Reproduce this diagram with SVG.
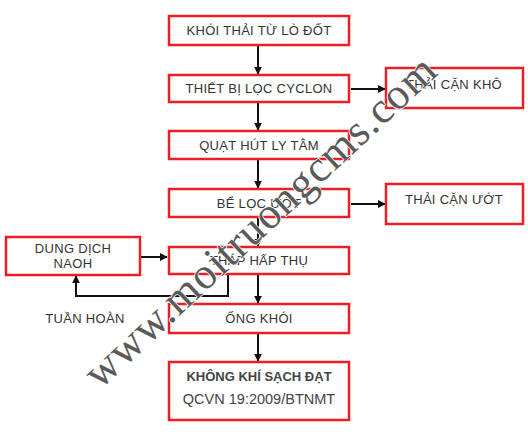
<svg xmlns="http://www.w3.org/2000/svg" width="528" height="435" viewBox="0 0 528 435">
<style>
.box{fill:#fff;stroke:#ee1c25;stroke-width:2.5}
.t{font-family:"Liberation Sans",Arial,sans-serif;font-size:13px;letter-spacing:0.3px;fill:#333;text-anchor:middle}
.ln{fill:none;stroke:#111;stroke-width:2}
.wm{font-family:"Liberation Serif","Times New Roman",serif;font-size:44px;letter-spacing:1px;fill:#5a5a5a;stroke:#fff;stroke-width:1.5;paint-order:stroke}
</style>
<defs>
<marker id="ah" viewBox="0 0 10 10" refX="9" refY="5" markerWidth="4" markerHeight="4" orient="auto" markerUnits="strokeWidth">
<path d="M0,0 L10,5 L0,10 z" fill="#111"/>
</marker>
</defs>
<rect width="528" height="435" fill="#fff"/>
<g id="connectors">
<line class="ln" x1="258" y1="46" x2="258" y2="74" marker-end="url(#ah)"/>
<line class="ln" x1="258" y1="103" x2="258" y2="130" marker-end="url(#ah)"/>
<line class="ln" x1="258" y1="160" x2="258" y2="188" marker-end="url(#ah)"/>
<line class="ln" x1="258" y1="218" x2="258" y2="246" marker-end="url(#ah)"/>
<line class="ln" x1="258" y1="275" x2="258" y2="303" marker-end="url(#ah)"/>
<line class="ln" x1="258" y1="334" x2="258" y2="361" marker-end="url(#ah)"/>
<line class="ln" x1="351" y1="89" x2="385" y2="89" marker-end="url(#ah)"/>
<line class="ln" x1="351" y1="204" x2="385" y2="204" marker-end="url(#ah)"/>
<line class="ln" x1="141" y1="257" x2="167" y2="257" marker-end="url(#ah)"/>
<polyline class="ln" points="228,275 228,296 76,296 76,276" marker-end="url(#ah)"/>
</g>
<g id="n1"><rect class="box" x="169" y="16" width="180" height="29"/><text class="t" x="259" y="35">KHÓI THẢI TỪ LÒ ĐỐT</text></g>
<g id="n2"><rect class="box" x="169" y="75" width="180" height="27"/><text class="t" x="259" y="93">THIẾT BỊ LỌC CYCLON</text></g>
<g id="n3"><rect class="box" x="169" y="131" width="180" height="28"/><text class="t" x="259" y="150">QUẠT HÚT LY TÂM</text></g>
<g id="n4"><rect class="box" x="169" y="189" width="180" height="28"/><text class="t" x="259" y="208">BỂ LỌC ƯỚT</text></g>
<g id="n5"><rect class="box" x="169" y="247" width="180" height="27"/><text class="t" x="259" y="265">THÁP HẤP THỤ</text></g>
<g id="n6"><rect class="box" x="169" y="304" width="180" height="29"/><text class="t" x="259" y="323">ỐNG KHÓI</text></g>
<g id="n7"><rect class="box" x="169" y="362" width="180" height="58"/><text class="t" x="259" y="381" style="font-weight:bold;fill:#444;letter-spacing:0">KHÔNG KHÍ SẠCH ĐẠT</text><text class="t" x="259" y="404" style="font-size:14.5px;fill:#444;letter-spacing:0">QCVN 19:2009/BTNMT</text></g>
<g id="n8"><rect class="box" x="6" y="237" width="134" height="38"/><text class="t" x="73" y="253">DUNG DỊCH</text><text class="t" x="73" y="268">NAOH</text></g>
<g id="n9"><rect class="box" x="386" y="68" width="137" height="40"/><text class="t" x="454" y="89">THẢI CẶN KHÔ</text></g>
<g id="n10"><rect class="box" x="386" y="184" width="137" height="40"/><text class="t" x="454" y="204">THẢI CẶN ƯỚT</text></g>
<text class="t" x="85" y="323">TUẦN HOÀN</text>
<text class="wm" x="0" y="0" transform="translate(100,390) rotate(-43)">www.moitruongcms.com</text>
</svg>
